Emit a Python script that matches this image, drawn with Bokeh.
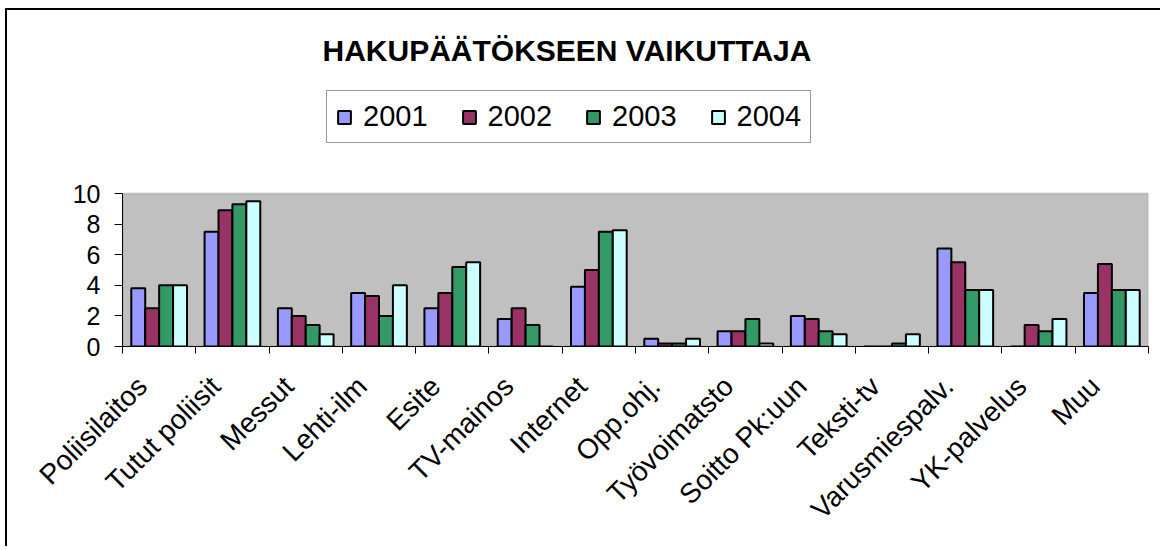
import math
from bokeh.plotting import figure
from bokeh.models import (ColumnDataSource, Range1d, FixedTicker, Legend, LegendItem,
                          Title, LinearAxis, BoxAnnotation)
from bokeh.transform import dodge
from bokeh.embed import file_html
from bokeh.resources import INLINE

title_text = "HAKUPÄÄTÖKSEEN VAIKUTTAJA"
categories = ["Poliisilaitos", "Tutut poliisit", "Messut", "Lehti-ilm", "Esite",
              "TV-mainos", "Internet", "Opp.ohj.", "Työvoimatsto", "Soitto Pk:uun",
              "Teksti-tv", "Varusmiespalv.", "YK-palvelus", "Muu"]
years = ["2001", "2002", "2003", "2004"]
v2001 = [3.8, 7.5, 2.5, 3.5, 2.5, 1.8, 3.9, 0.5, 1.0, 2.0, 0.0, 6.4, 0.0, 3.5]
v2002 = [2.5, 8.9, 2.0, 3.3, 3.5, 2.5, 5.0, 0.2, 1.0, 1.8, 0.0, 5.5, 1.4, 5.4]
v2003 = [4.0, 9.3, 1.4, 2.0, 5.2, 1.4, 7.5, 0.2, 1.8, 1.0, 0.2, 3.7, 1.0, 3.7]
v2004 = [4.0, 9.5, 0.8, 4.0, 5.5, 0.0, 7.6, 0.5, 0.2, 0.8, 0.8, 3.7, 1.8, 3.7]
colors = ["#9999FF", "#993366", "#339966", "#CCFFFF"]
y_ticks = [0, 2, 4, 6, 8, 10]
y_max = 10

FONT = "Liberation Sans"
n = len(categories)
centers = [i + 0.5 for i in range(n)]
label_pos = [i + 0.27 for i in range(n)]   # rotated labels end left of the group centre
source = ColumnDataSource(dict(x=centers, cat=categories,
                               y2001=v2001, y2002=v2002, y2003=v2003, y2004=v2004))

# frame extends above the plot area so that the legend lives inside it
p = figure(width=1155, height=538, output_backend="svg", toolbar_location=None,
           x_range=Range1d(0, n), y_range=Range1d(0, 17.39),
           x_axis_type=None, y_axis_type=None,
           min_border_left=115, min_border_right=14, min_border_top=70, min_border_bottom=202,
           background_fill_color="white", border_fill_color="white",
           outline_line_color=None)
p.styles = {"border-top": "2px solid black", "border-left": "2px solid black",
            "margin-left": "5px", "margin-top": "8px"}

# plot area (grey wall)
p.add_layout(BoxAnnotation(left=0, right=n, bottom=0, top=y_max, level="image",
                           fill_color="#C0C0C0", fill_alpha=1,
                           line_color="#808080", line_width=2))

# axes
xaxis = LinearAxis(ticker=FixedTicker(ticks=label_pos, minor_ticks=list(range(n + 1))),
                   major_label_overrides={c: lab for c, lab in zip(label_pos, categories)},
                   major_label_orientation=math.pi / 4,
                   major_label_text_font=FONT, major_label_text_font_size="28px",
                   major_label_text_color="black", major_label_standoff=28,
                   major_tick_out=0, major_tick_in=0,
                   minor_tick_out=7, minor_tick_in=0, minor_tick_line_color="black",
                   minor_tick_line_width=1,
                   axis_line_color="black", axis_line_width=1)
p.add_layout(xaxis, "below")
yaxis = LinearAxis(ticker=FixedTicker(ticks=y_ticks, minor_ticks=[]), bounds=(0, y_max),
                   major_label_text_font=FONT, major_label_text_font_size="25px",
                   major_label_text_color="black", major_label_standoff=14,
                   major_tick_out=8, major_tick_in=0, major_tick_line_color="black",
                   axis_line_color="black", axis_line_width=1)
p.add_layout(yaxis, "left")

p.ygrid.ticker = FixedTicker(ticks=y_ticks[1:])
p.ygrid.grid_line_color = "#1a1a1a"
p.ygrid.grid_line_width = 1
p.ygrid.bounds = (0, n)
p.xgrid.grid_line_color = None

bw = 0.19
offsets = [-1.5 * bw, -0.5 * bw, 0.5 * bw, 1.5 * bw]
renderers = []
for yr, col, off in zip(years, colors, offsets):
    r = p.vbar(x=dodge("x", off, range=p.x_range), top="y" + yr, width=bw, bottom=0,
               source=source, fill_color=col, line_color="black", line_width=2)
    renderers.append(r)

legend = Legend(items=[LegendItem(label=yr, renderers=[r]) for yr, r in zip(years, renderers)],
                orientation="horizontal", location=(204, 203),
                border_line_color="#333333", border_line_width=1,
                background_fill_color="white", background_fill_alpha=1,
                label_text_font=FONT, label_text_font_size="29px", label_text_color="black",
                glyph_width=16, glyph_height=16, label_standoff=11,
                spacing=33, padding=9, margin=0)
p.add_layout(legend, "center")

p.add_layout(Title(text=title_text, align="left", offset=200, standoff=27,
                   text_font=FONT, text_font_style="bold", text_font_size="30px",
                   text_color="black"), "above")

open("out.html", "w").write(file_html(p, INLINE))
